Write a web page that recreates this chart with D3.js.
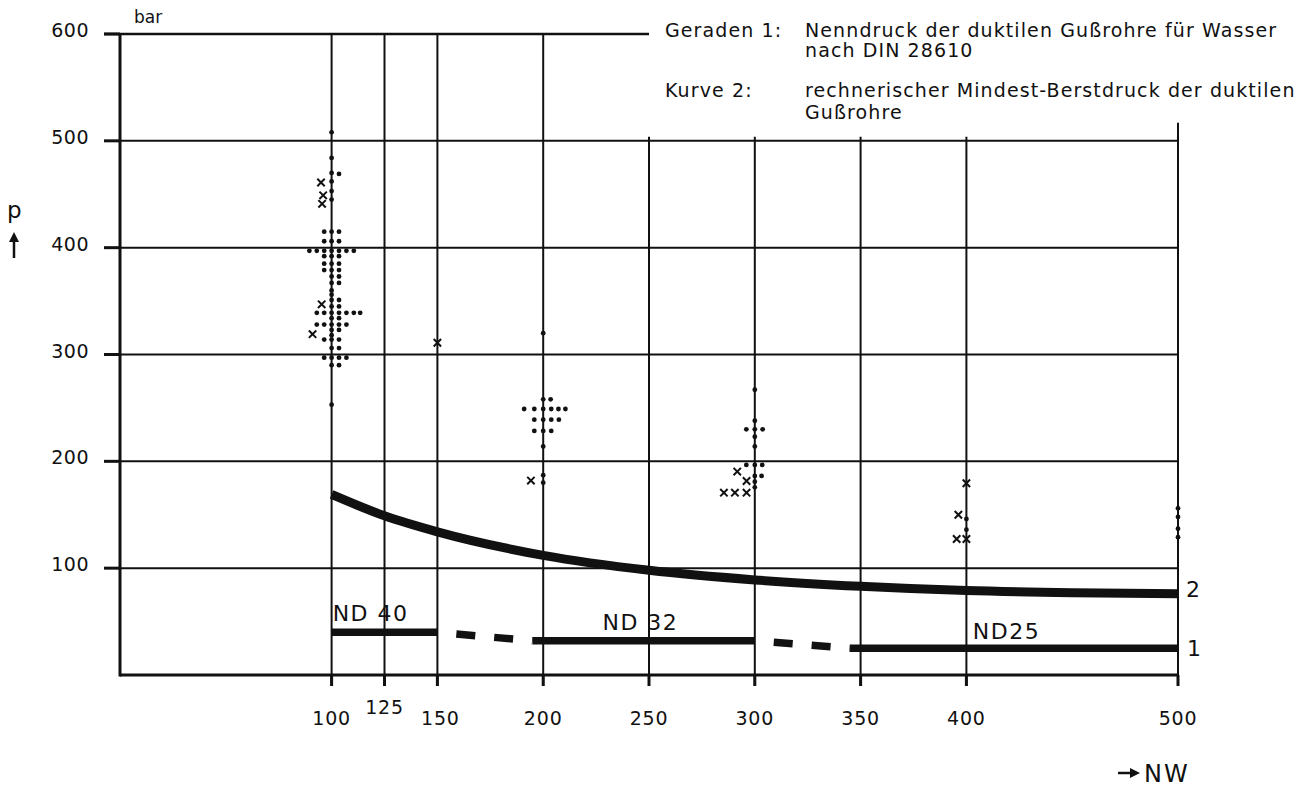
<!DOCTYPE html>
<html><head><meta charset="utf-8">
<script src="https://cdn.jsdelivr.net/npm/d3@7"></script>
<style>
body{margin:0;background:#fff}
svg{display:block}
text{font-family:"DejaVu Sans",sans-serif;fill:#111}
</style>
</head><body>
<svg id="c" width="1304" height="787"></svg>
<script>
// ---------- data ----------
const yTicks = [100, 200, 300, 400, 500, 600];
const yTickLabels = ["100", "200", "300", "400", "500", "600"];
const xTicks = [100, 125, 150, 200, 250, 300, 350, 400, 500];
const xTickLabels = ["100", "125", "150", "200", "250", "300", "350", "400", "500"];
const xGridTop = [600, 600, 600, 600, 500, 500, 500, 500, 500];
const hGridLines = [100, 200, 300, 400, 500];

// Kurve 2: rechnerischer Mindest-Berstdruck
const curve2NW = [100, 125, 150, 200, 250, 300, 350, 400, 450, 500];
const curve2P  = [169, 149, 134, 112, 98, 89, 83, 79, 77, 76];

// Geraden 1: Nenndruck (solid parts and dashed transitions)
const ndSegNW0 = [100, 150, 195, 300, 345];
const ndSegNW1 = [150, 195, 300, 345, 500];
const ndSegP0  = [40, 40, 32, 32, 25];
const ndSegP1  = [40, 32, 32, 25, 25];
const ndSegDashed = [false, true, false, true, false];
const ndLabels = ["ND 40", "ND 32", "ND25"];
const ndLabelNW = [100.5, 228, 403];
const ndLabelP = [51, 42, 34];

// measured burst pressures (dots)
const dotNW = [
  100,100,100,100,100,100,100,100,100,100,100,100,100,100,100,100,100,100,100,100,100,100,100,100,100,100,100,100,
  103.5,103.5,103.5,103.5,103.5,103.5,103.5,103.5,103.5,103.5,103.5,103.5,103.5,103.5,103.5,103.5,103.5,103.5,103.5,
  96.5,96.5,96.5,96.5,96.5,96.5,96.5,96.5,96.5,96.5,
  93,93,93, 89.5, 107,107,107,107, 110.5,110.5, 113.5,
  200,200,203.5,191,195.8,200,203.8,207.2,210.5,195.8,200,203.8,207.4,195.8,200,203.8,200,200,200,
  300,300,296,300,303.7,300,300,296,300,303.5,300,303.2,300,300,
  400,400,
  500,500,500,500
];
const dotP = [
  508,484,470,462,453,445,415,406,397,392,385,379,373,367,360,356,351,345,339,334,328,323,318,314,306,297,290,253,
  469,415,406,397,392,385,379,373,367,351,345,339,334,328,323,314,306,297,290,
  415,406,397,392,385,379,339,328,314,297,
  397,339,328, 397, 397,339,328,297, 397,339, 339,
  320,258,258,249,249,249,249,249,249,239,239,239,239,228.5,228.5,228.5,214,187,180,
  267,238,230,230,230,223,214,196.6,196.6,196.6,186.3,186.3,181,175.7,
  146,136,
  156,148,137,129
];
// measured values (crosses)
const crossNW = [95, 96, 95.5, 95.3, 91, 150, 194.2, 291.7, 296.1, 285.4, 290.6, 296.1, 400, 396.2, 395.4, 400];
const crossP  = [461, 449, 441, 347, 319, 311, 182, 190.4, 181.6, 170.7, 170.7, 170.7, 179.5, 150, 127.3, 127.3];

// ---------- drawing ----------
const svg = d3.select("#c");
const x = d3.scaleLinear().domain([0, 500]).range([120, 1178]);
const y = d3.scaleLinear().domain([0, 600]).range([675, 34]);
const ink = "#111";

const g = svg.append("g");

// horizontal grid lines
g.selectAll(".hg").data(hGridLines).join("line")
  .attr("x1", x(0)).attr("x2", x(500))
  .attr("y1", d => y(d)).attr("y2", d => y(d))
  .attr("stroke", ink).attr("stroke-width", 2);
// top line at 600, only to 250
g.append("line").attr("x1", x(0) - 16).attr("x2", x(250))
  .attr("y1", y(600)).attr("y2", y(600)).attr("stroke", ink).attr("stroke-width", 2.5);

// y tick stubs
g.selectAll(".yt").data(yTicks).join("line")
  .attr("x1", x(0) - 16).attr("x2", x(0))
  .attr("y1", d => y(d)).attr("y2", d => y(d))
  .attr("stroke", ink).attr("stroke-width", 3);

// vertical grid lines (extend below axis as ticks)
g.selectAll(".vg").data(xTicks).join("line")
  .attr("x1", d => x(d)).attr("x2", d => x(d))
  .attr("y1", y(0) + 11)
  .attr("y2", (d, i) => y(xGridTop[i]) - (xGridTop[i] === 500 ? (d === 500 ? 18 : 4) : 0))
  .attr("stroke", ink).attr("stroke-width", 2);
g.selectAll(".xt").data(xTicks).join("line")
  .attr("x1", d => x(d)).attr("x2", d => x(d))
  .attr("y1", y(0)).attr("y2", y(0) + 11)
  .attr("stroke", ink).attr("stroke-width", 3);

// axes lines
g.append("line").attr("x1", x(0)).attr("x2", x(0)).attr("y1", y(0) + 1.5).attr("y2", y(600))
  .attr("stroke", ink).attr("stroke-width", 3);
g.append("line").attr("x1", x(0)).attr("x2", x(500) + 1).attr("y1", y(0)).attr("y2", y(0))
  .attr("stroke", ink).attr("stroke-width", 3);

// y tick labels
g.selectAll(".yl").data(yTicks).join("text")
  .attr("x", 89).attr("y", d => y(d) + 3)
  .attr("text-anchor", "end").attr("font-size", 19).attr("letter-spacing", 0.5)
  .text((d, i) => yTickLabels[i]);

// x tick labels
g.selectAll(".xl").data(xTicks).join("text")
  .attr("x", d => x(d) + (d === 150 ? 3 : 0))
  .attr("y", d => d === 125 ? 714 : 725)
  .attr("text-anchor", "middle").attr("font-size", 19).attr("letter-spacing", 0.8)
  .text((d, i) => xTickLabels[i]);

// axis titles
svg.append("text").attr("x", 134).attr("y", 23).attr("font-size", 17).text("bar");
svg.append("text").attr("x", 7).attr("y", 218).attr("font-size", 23).text("p");
// up arrow
svg.append("line").attr("x1", 14).attr("x2", 14).attr("y1", 240).attr("y2", 258)
  .attr("stroke", ink).attr("stroke-width", 2.5);
svg.append("path").attr("d", "M9,242 L14,232 L19,242 Z").attr("fill", ink);
// right arrow + NW
svg.append("line").attr("x1", 1118).attr("x2", 1132).attr("y1", 773).attr("y2", 773)
  .attr("stroke", ink).attr("stroke-width", 2.5);
svg.append("path").attr("d", "M1130,768 L1140,773 L1130,778 Z").attr("fill", ink);
svg.append("text").attr("x", 1144).attr("y", 782).attr("font-size", 24).attr("letter-spacing", 2).text("NW");

// legend text
const leg = svg.append("g").attr("font-size", 19).attr("letter-spacing", 1.1);
leg.append("text").attr("x", 665).attr("y", 37).text("Geraden 1:");
leg.append("text").attr("x", 805).attr("y", 37).text("Nenndruck der duktilen Gußrohre für Wasser");
leg.append("text").attr("x", 805).attr("y", 57).text("nach DIN 28610");
leg.append("text").attr("x", 665).attr("y", 97).text("Kurve 2:");
leg.append("text").attr("x", 805).attr("y", 97).text("rechnerischer Mindest-Berstdruck der duktilen");
leg.append("text").attr("x", 805).attr("y", 119).text("Gußrohre");

// curve 2
const curveData = curve2NW.map((d, i) => [d, curve2P[i]]);
g.append("path").datum(curveData)
  .attr("d", d3.line().x(d => x(d[0])).y(d => y(d[1])).curve(d3.curveMonotoneX))
  .attr("fill", "none").attr("stroke", ink).attr("stroke-width", 9);

// line 1 segments
ndSegNW0.forEach((d, i) => {
  g.append("line")
    .attr("x1", x(d)).attr("x2", x(ndSegNW1[i]))
    .attr("y1", y(ndSegP0[i])).attr("y2", y(ndSegP1[i]))
    .attr("stroke", ink).attr("stroke-width", 7.5)
    .attr("stroke-dasharray", ndSegDashed[i] ? "19,19" : null)
    .attr("stroke-dashoffset", ndSegDashed[i] ? 19 : null);
});
g.selectAll(".ndl").data(ndLabels).join("text")
  .attr("x", (d, i) => x(ndLabelNW[i])).attr("y", (d, i) => y(ndLabelP[i]))
  .attr("font-size", 22).attr("letter-spacing", 1.5).text(d => d);
svg.append("text").attr("x", x(500) + 8).attr("y", y(curve2P[curve2P.length - 1]) + 3).attr("font-size", 22).text("2");
svg.append("text").attr("x", x(500) + 9).attr("y", y(ndSegP1[ndSegP1.length - 1]) + 8).attr("font-size", 22).text("1");

// dots
g.selectAll(".dot").data(dotNW).join("circle")
  .attr("cx", d => x(d)).attr("cy", (d, i) => y(dotP[i]))
  .attr("r", 2.4).attr("fill", ink);

// crosses
g.selectAll(".cross").data(crossNW).join("path")
  .attr("d", (d, i) => {
    const cx = x(d), cy = y(crossP[i]), s = 3.7;
    const p = d3.path();
    p.moveTo(cx - s, cy - s); p.lineTo(cx + s, cy + s);
    p.moveTo(cx + s, cy - s); p.lineTo(cx - s, cy + s);
    return p.toString();
  })
  .attr("stroke", ink).attr("stroke-width", 2).attr("fill", "none");
</script>
</body></html>
